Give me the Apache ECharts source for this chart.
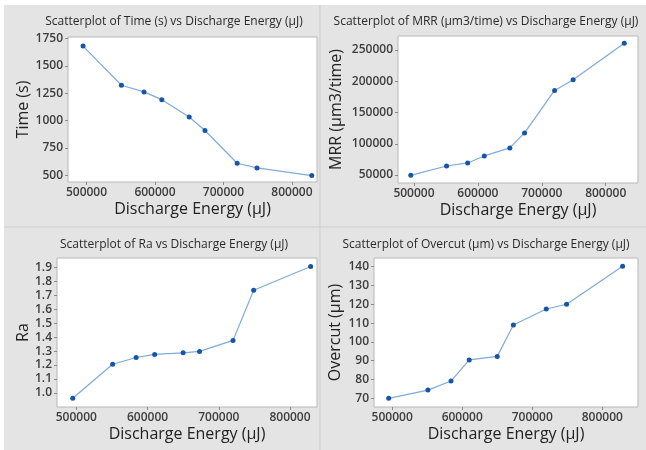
<!DOCTYPE html>
<html>
<head>
<meta charset="utf-8">
<script src="https://cdn.jsdelivr.net/npm/echarts@6/dist/echarts.min.js"></script>
<style>
html,body{margin:0;padding:0;background:#fff;}
#chart{width:646px;height:450px;}
</style>
</head>
<body>
<div id="chart"></div>
<script>
// ---- data ----
const energy = [495000, 551000, 584000, 610000, 650000, 673000, 720000, 749000, 829000];
const timeS = [1683, 1324, 1263, 1192, 1033, 910, 610, 567, 497];
const mrr = [49500, 64400, 69300, 80500, 93300, 117400, 185300, 202400, 260700];
const ra = [0.962, 1.206, 1.254, 1.276, 1.288, 1.298, 1.377, 1.737, 1.907];
const overcut = [70.0, 74.4, 79.2, 90.4, 92.3, 109.0, 117.5, 120.0, 140.2];

const energyTicks = [500000, 600000, 700000, 800000];
const timeTicks = [500, 750, 1000, 1250, 1500, 1750];
const mrrTicks = [50000, 100000, 150000, 200000, 250000];
const raTicks = [1.0, 1.1, 1.2, 1.3, 1.4, 1.5, 1.6, 1.7, 1.8, 1.9];
const overcutTicks = [70, 80, 90, 100, 110, 120, 130, 140];

const titles = [
  'Scatterplot of Time (s) vs Discharge Energy (µJ)',
  'Scatterplot of MRR (µm3/time) vs Discharge Energy (µJ)',
  'Scatterplot of Ra vs Discharge Energy (µJ)',
  'Scatterplot of Overcut (µm) vs Discharge Energy (µJ)'
];
const yNames = ['Time (s)', 'MRR (µm3/time)', 'Ra', 'Overcut (µm)'];
const xName = 'Discharge Energy (µJ)';

// ---- layout ----
const FONT = '"Open Sans", "Noto Sans", sans-serif';
const grids = [
  {left: 68, top: 37, width: 249, height: 145},
  {left: 398, top: 36, width: 240, height: 147},
  {left: 57, top: 258, width: 260, height: 149},
  {left: 374, top: 258, width: 264, height: 149}
];
const xRanges = [[473000, 836600], [475000, 850500], [472900, 837900], [474000, 851000]];
const yRanges = [[438, 1766], [37200, 272400], [0.899, 1.968], [65.4, 144.6]];
const yTickSets = [timeTicks, mrrTicks, raTicks, overcutTicks];
const ySeries = [timeS, mrr, ra, overcut];
const yNameGaps = [37, 54, 26, 31];
const titlePos = [[174, 22], [486, 22], [174, 245], [486, 245]];

const tickLabel = {color: '#3c3c3c', fontSize: 12, fontWeight: 600, fontFamily: FONT};

const option = {
  backgroundColor: '#ffffff',
  animation: false,
  graphic: [
    {type: 'rect', shape: {x: 4, y: 5, width: 642, height: 445}, style: {fill: '#e4e4e4'}, z: -10},
    {type: 'line', shape: {x1: 320, y1: 5, x2: 320, y2: 450}, style: {stroke: '#cdcdcd', lineWidth: 1}, z: -9},
    {type: 'line', shape: {x1: 4, y1: 227, x2: 646, y2: 227}, style: {stroke: '#cdcdcd', lineWidth: 1}, z: -9}
  ].concat(titles.map((t, i) => ({
    type: 'text', x: titlePos[i][0], y: titlePos[i][1],
    style: {text: t, textAlign: 'center', textVerticalAlign: 'middle', fill: '#2a2a2a', fontSize: 12, fontFamily: FONT}
  }))),
  grid: grids.map(g => Object.assign({show: true, backgroundColor: '#ffffff', borderColor: '#b8b8b8', borderWidth: 1, containLabel: false}, g)),
  xAxis: grids.map((g, i) => ({
    type: 'value', gridIndex: i, min: xRanges[i][0], max: xRanges[i][1],
    name: xName, nameLocation: 'middle', nameGap: 19,
    nameTextStyle: {fontSize: 16, color: '#222', fontFamily: FONT},
    axisLine: {show: false},
    axisTick: {show: true, length: 3, lineStyle: {color: '#8a8a8a'}, customValues: energyTicks},
    axisLabel: Object.assign({margin: 5, customValues: energyTicks, formatter: v => String(v)}, tickLabel),
    splitLine: {show: false}
  })),
  yAxis: grids.map((g, i) => ({
    type: 'value', gridIndex: i, min: yRanges[i][0], max: yRanges[i][1],
    name: yNames[i], nameLocation: 'middle', nameGap: yNameGaps[i], nameRotate: 90,
    nameTextStyle: {fontSize: 16, color: '#222', fontFamily: FONT},
    axisLine: {show: false},
    axisTick: {show: true, length: 3, lineStyle: {color: '#8a8a8a'}, customValues: yTickSets[i]},
    axisLabel: Object.assign({margin: 5, customValues: yTickSets[i],
      formatter: i === 2 ? (v => Number(v).toFixed(1)) : (v => String(v))}, tickLabel),
    splitLine: {show: false}
  })),
  series: ySeries.map((ys, i) => ({
    type: 'line', xAxisIndex: i, yAxisIndex: i,
    data: energy.map((x, k) => [x, ys[k]]),
    symbol: 'circle', symbolSize: 5, showSymbol: true,
    lineStyle: {color: '#7faadb', width: 1.2},
    itemStyle: {color: '#1656a6'},
    emphasis: {disabled: true}
  }))
};

const chart = echarts.init(document.getElementById('chart'), null, {renderer: 'canvas'});
chart.setOption(option);
</script>
</body>
</html>
